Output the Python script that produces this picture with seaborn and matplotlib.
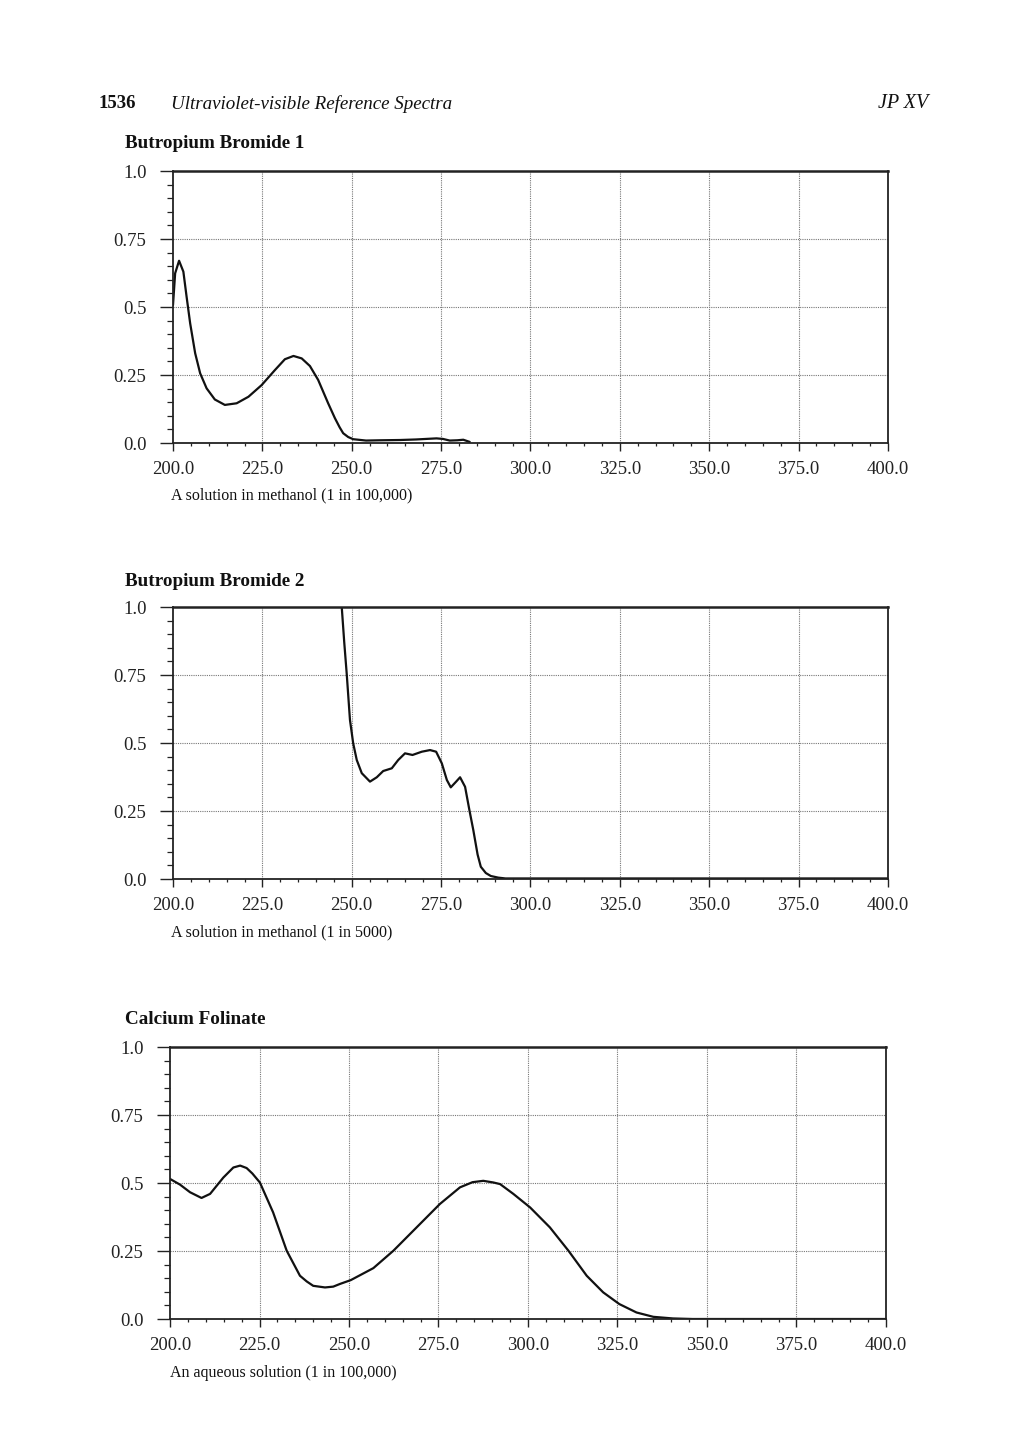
import matplotlib
matplotlib.use('Agg')
import matplotlib.pyplot as plt
import seaborn as sns
import pandas as pd
from matplotlib.ticker import MultipleLocator, FixedLocator

# wavelengths (nm) and absorbance
bb1_nm = [200.0, 200.6, 201.7, 202.9, 203.8, 204.8, 206.2, 207.6, 209.4, 211.7, 214.5,
          217.8, 221.1, 224.8, 228.5, 231.3, 233.7, 236.0, 238.3, 240.6, 243.4, 245.3,
          246.6, 247.6, 249.0, 250.4, 254.0, 258.0, 263.5, 268.0, 273.7, 275.5, 277.4,
          279.5, 281.2, 283.0]
bb1_abs = [0.507, 0.624, 0.670, 0.63, 0.538, 0.44, 0.33, 0.256, 0.201, 0.16, 0.14,
           0.146, 0.17, 0.213, 0.268, 0.308, 0.32, 0.311, 0.283, 0.232, 0.146, 0.091,
           0.058, 0.036, 0.022, 0.014, 0.009, 0.010, 0.011, 0.013, 0.017, 0.015, 0.009,
           0.010, 0.012, 0.004]

bb2_nm = [247.2, 247.9, 248.6, 249.5, 250.4, 251.4, 252.8, 255.1, 257.0, 258.8, 261.2,
          263.0, 264.9, 267.0, 269.6, 271.9, 273.6, 275.2, 276.6, 277.7, 279.2, 280.3,
          281.7, 282.9, 284.0, 285.2, 286.1, 287.5, 288.9, 291.0, 293.0, 300.0, 325.0,
          350.0, 375.0, 400.0]
bb2_abs = [1.0, 0.87, 0.753, 0.585, 0.499, 0.4375, 0.389, 0.358, 0.374, 0.397, 0.407,
           0.4375, 0.462, 0.456, 0.468, 0.474, 0.468, 0.425, 0.364, 0.337, 0.358, 0.374,
           0.339, 0.254, 0.18, 0.09, 0.045, 0.022, 0.011, 0.005, 0.002, 0.002, 0.002,
           0.002, 0.002, 0.002]

cf_nm = [200.0, 202.8, 205.6, 208.8, 211.2, 214.9, 217.7, 219.6, 221.4, 223.0, 225.1,
         228.8, 232.6, 236.3, 238.2, 240.0, 243.3, 245.6, 247.5, 250.5, 256.8, 262.4,
         268.9, 275.4, 281.0, 284.5, 287.5, 290.3, 292.2, 295.9, 300.6, 306.1, 311.3,
         316.4, 321.0, 325.5, 330.3, 335.0, 340.5, 346.0, 350.0, 375.0, 400.0]
cf_abs = [0.515, 0.494, 0.466, 0.445, 0.46, 0.52, 0.557, 0.564, 0.555, 0.535, 0.502,
          0.392, 0.251, 0.159, 0.138, 0.122, 0.116, 0.119, 0.129, 0.143, 0.187, 0.251,
          0.337, 0.423, 0.484, 0.503, 0.508, 0.502, 0.496, 0.46, 0.41, 0.337, 0.251,
          0.159, 0.098, 0.055, 0.024, 0.008, 0.002, 0.0, 0.0, 0.0, 0.0]

x_ticks = [200, 225, 250, 275, 300, 325, 350, 375, 400]
x_labels = ['200.0', '225.0', '250.0', '275.0', '300.0', '325.0', '350.0', '375.0', '400.0']
y_ticks = [0.0, 0.25, 0.5, 0.75, 1.0]
y_labels = ['0.0', '0.25', '0.5', '0.75', '1.0']

titles = ['Butropium Bromide 1', 'Butropium Bromide 2', 'Calcium Folinate']
captions = ['A solution in methanol (1 in 100,000)',
            'A solution in methanol (1 in 5000)',
            'An aqueous solution (1 in 100,000)']

sns.set_theme(style='white')
plt.rcParams['font.family'] = ['Liberation Serif', 'DejaVu Serif']

W, H = 1020, 1443
fig = plt.figure(figsize=(W / 100, H / 100), dpi=100)
fig.patch.set_facecolor('white')

def px(x, y):
    return x / W, 1 - y / H

# page header
fig.text(*px(99, 104), '1536', fontsize=13.5, fontweight='bold', va='center', ha='left', color='#111')
fig.text(*px(171, 104), 'Ultraviolet-visible Reference Spectra', fontsize=13.7,
         style='italic', va='center', ha='left', color='#111')
fig.text(*px(928, 104), 'JP XV', fontsize=14.5, style='italic', va='center', ha='right', color='#111')

# panel boxes in pixels: left, top, right, bottom
boxes = [(173, 171, 888, 443), (173, 607, 888, 879), (170, 1047, 886, 1319)]
title_y = [144, 581, 1020]
caption_pos = [(171, 495), (171, 932), (170, 1373)]
series = [(bb1_nm, bb1_abs), (bb2_nm, bb2_abs), (cf_nm, cf_abs)]

for i in range(3):
    l, t, r, b = boxes[i]
    ax = fig.add_axes([l / W, 1 - b / H, (r - l) / W, (b - t) / H])
    df = pd.DataFrame({'nm': series[i][0], 'A': series[i][1]})
    sns.lineplot(data=df, x='nm', y='A', ax=ax, color='#111', linewidth=1.6, sort=False)
    ax.set_xlim(200, 400)
    ax.set_ylim(0, 1.0)
    ax.set_xlabel('')
    ax.set_ylabel('')
    ax.xaxis.set_major_locator(FixedLocator(x_ticks))
    ax.set_xticklabels(x_labels)
    ax.yaxis.set_major_locator(FixedLocator(y_ticks))
    ax.set_yticklabels(y_labels)
    ax.xaxis.set_minor_locator(MultipleLocator(5))
    ax.yaxis.set_minor_locator(MultipleLocator(0.05))
    ax.tick_params(axis='x', which='major', direction='out', length=6, width=1.0,
                   color='#222', labelsize=13.5, pad=7, labelcolor='#222', bottom=True)
    ax.tick_params(axis='x', which='minor', direction='out', length=2.5, width=0.9,
                   color='#222', bottom=True)
    ax.tick_params(axis='y', which='major', direction='out', length=9.5, width=1.0,
                   color='#222', labelsize=13.5, pad=9.5, labelcolor='#222', left=True)
    ax.tick_params(axis='y', which='minor', direction='out', length=4.5, width=0.9,
                   color='#222', left=True)
    for s in ['left', 'bottom', 'top', 'right']:
        ax.spines[s].set_visible(True)
        ax.spines[s].set_color('#222')
        ax.spines[s].set_linewidth(1.3)
    ax.spines['top'].set_linewidth(1.8)
    for xv in x_ticks[1:-1]:
        ax.axvline(xv, color='#777', linestyle=(0, (1, 1)), linewidth=0.8, zorder=0)
    for yv in y_ticks[1:-1]:
        ax.axhline(yv, color='#777', linestyle=(0, (1, 1)), linewidth=0.8, zorder=0)

    fig.text(*px(125, title_y[i]), titles[i], fontsize=13.8, fontweight='bold',
             va='center', ha='left', color='#111')
    cx, cy = caption_pos[i]
    fig.text(*px(cx, cy), captions[i], fontsize=11.5, va='center', ha='left', color='#111')

fig.savefig('out.png', dpi=100, facecolor='white')
